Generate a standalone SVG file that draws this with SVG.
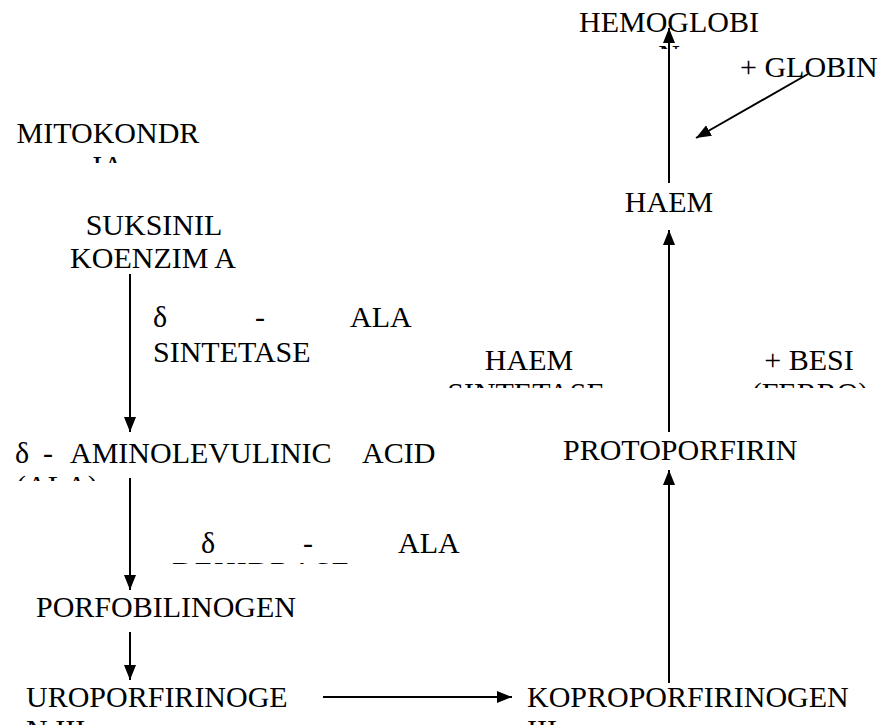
<svg xmlns="http://www.w3.org/2000/svg" width="882" height="725" viewBox="0 0 882 725">
<defs>
<marker id="ah" viewBox="0 0 15 12" refX="15" refY="6" markerWidth="15" markerHeight="12" markerUnits="userSpaceOnUse" orient="auto">
<path d="M0,0 L15,6 L0,12 Z" fill="#000"/>
</marker>
<clipPath id="k1"><rect x="0" y="0" width="882" height="49"/></clipPath>
<clipPath id="k2"><rect x="0" y="150" width="882" height="13"/></clipPath>
<clipPath id="k3"><rect x="0" y="375" width="882" height="13"/></clipPath>
<clipPath id="k4"><rect x="0" y="468" width="882" height="13"/></clipPath>
<clipPath id="k5"><rect x="0" y="557" width="882" height="7"/></clipPath>
</defs>
<rect width="882" height="725" fill="#fff"/>
<g id="connectors" stroke="#000" stroke-width="2" fill="none">
<line x1="669" y1="183" x2="669" y2="28" marker-end="url(#ah)"/>
<line x1="808" y1="74" x2="696" y2="138" marker-end="url(#ah)"/>
<line x1="669" y1="432" x2="669" y2="230" marker-end="url(#ah)"/>
<line x1="669" y1="683" x2="669" y2="470" marker-end="url(#ah)"/>
<line x1="130" y1="274" x2="130" y2="432" marker-end="url(#ah)"/>
<line x1="130" y1="478" x2="130" y2="590" marker-end="url(#ah)"/>
<line x1="130" y1="632" x2="130" y2="680" marker-end="url(#ah)"/>
<line x1="323" y1="697" x2="512" y2="697" marker-end="url(#ah)"/>
</g>
<g font-family="'Liberation Serif', 'Times New Roman', serif" font-size="30" fill="#000">
<g id="hemoglobin">
<text text-anchor="middle" x="669" y="32">HEMOGLOBI</text>
<text text-anchor="middle" x="669" y="65" clip-path="url(#k1)">N</text>
</g>
<g id="globin"><text x="740" y="77">+ GLOBIN</text></g>
<g id="mitokondria">
<text text-anchor="middle" x="108" y="143">MITOKONDR</text>
<text text-anchor="middle" x="108" y="176" clip-path="url(#k2)">IA</text>
</g>
<g id="haem"><text text-anchor="middle" x="669" y="212">HAEM</text></g>
<g id="suksinil">
<text text-anchor="middle" x="154" y="235">SUKSINIL</text>
<text text-anchor="middle" x="153" y="268">KOENZIM A</text>
</g>
<g id="ala-sintetase">
<text x="153" y="327">δ</text>
<text x="255" y="327">-</text>
<text x="350" y="327">ALA</text>
<text x="153" y="362">SINTETASE</text>
</g>
<g id="haem-sintetase">
<text text-anchor="middle" x="529" y="370">HAEM</text>
<text text-anchor="middle" x="526" y="403" clip-path="url(#k3)">SINTETASE</text>
</g>
<g id="besi">
<text text-anchor="middle" x="809" y="370">+ BESI</text>
<text text-anchor="middle" x="810" y="403" clip-path="url(#k3)">(FERRO)</text>
</g>
<g id="ala">
<text x="15" y="463">δ</text>
<text x="43" y="463">-</text>
<text x="70" y="463">AMINOLEVULINIC</text>
<text x="362" y="463">ACID</text>
<text x="16" y="496" clip-path="url(#k4)">(ALA)</text>
</g>
<g id="protoporfirin"><text x="563" y="460">PROTOPORFIRIN</text></g>
<g id="ala-dehidrase">
<text x="201" y="553">δ</text>
<text x="303" y="553">-</text>
<text x="398" y="553">ALA</text>
<text x="172" y="582" clip-path="url(#k5)" textLength="178" lengthAdjust="spacing">DEHIDRASE</text>
</g>
<g id="porfobilinogen"><text x="36" y="617">PORFOBILINOGEN</text></g>
<g id="uroporfirinogen">
<text x="26" y="707">UROPORFIRINOGE</text>
<text x="26" y="740">N III</text>
</g>
<g id="koproporfirinogen">
<text x="527" y="707">KOPROPORFIRINOGEN</text>
<text x="527" y="740">III</text>
</g>
</g>
</svg>
